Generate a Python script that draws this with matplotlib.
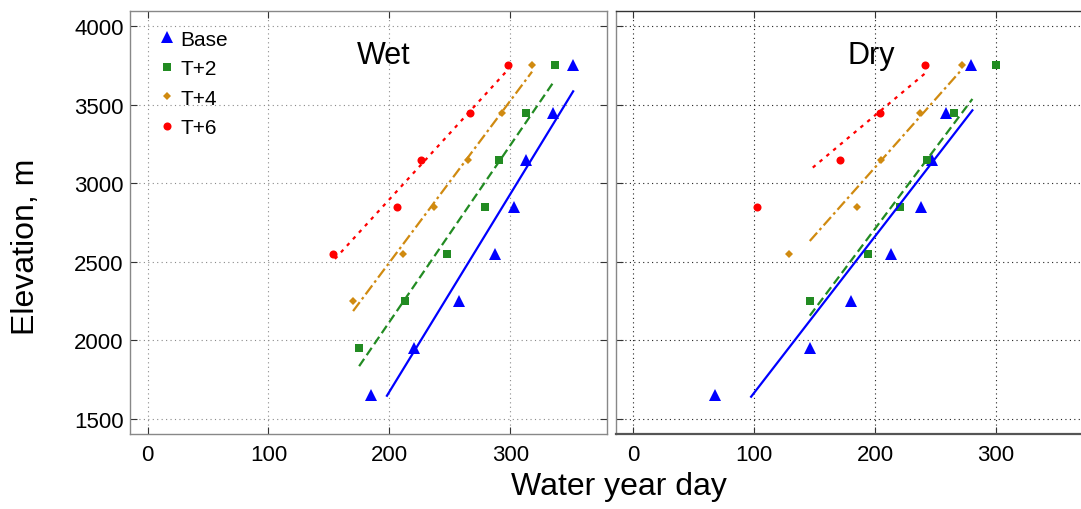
import numpy as np
import matplotlib
matplotlib.use("Agg")
import matplotlib.pyplot as plt

plt.rcParams["font.family"] = ["Liberation Sans", "DejaVu Sans"]

# Elevation bands (m); each scenario covers the highest bands of this list
elevations = [1650, 1950, 2250, 2550, 2850, 3150, 3450, 3750]
series_names = ["Base", "T+2", "T+4", "T+6"]

# Water-year day of snow disappearance per elevation band, wet year
wet_base_days = [185, 220, 258, 287, 303, 313, 335, 352]
wet_t2_days = [175, 213, 248, 279, 291, 313, 337]
wet_t4_days = [170, 211, 237, 265, 293, 318]
wet_t6_days = [153, 206, 226, 267, 298]

# Same for the dry year
dry_base_days = [68, 146, 180, 213, 238, 247, 259, 279]
dry_t2_days = [146, 194, 221, 243, 265, 300]
dry_t4_days = [129, 185, 205, 237, 272]
dry_t6_days = [102, 171, 204, 241]

# Day range over which each fitted linear trend is shown
wet_trend_spans = [(198, 352), (175, 335), (170, 318), (155, 298)]
dry_trend_spans = [(97.5, 280.5), (146, 280.5), (146, 272), (148.5, 242)]

x_ticks = [0, 100, 200, 300]
y_ticks = [1500, 2000, 2500, 3000, 3500, 4000]

colors = ["#0000ff", "#228b22", "#d08a10", "#ff0000"]
markers = ["^", "s", "D", "o"]
marker_sizes = [8.5, 6.3, 4.2, 5.8]
line_styles = ["-", (0, (4, 2)), (0, (5, 1.6, 1.2, 1.6)), (0, (1.6, 2.4))]

W, H = 1081, 510
fig = plt.figure(figsize=(W / 100, H / 100), dpi=100)
ax_w = fig.add_axes([130 / W, 75 / H, 477 / W, 423.3 / H])
ax_d = fig.add_axes([615.7 / W, 75 / H, 477 / W, 423.3 / H])


def draw_panel(ax, day_sets, spans, grid_color, spine_colors):
    for i, days in enumerate(day_sets):
        elev = elevations[-len(days):]
        ax.plot(days, elev, linestyle="none", marker=markers[i],
                color=colors[i], markersize=marker_sizes[i],
                markeredgewidth=0, label=series_names[i], zorder=3)
        coef = np.polyfit(days, elev, 1)
        xs = np.linspace(spans[i][0], spans[i][1], 60)
        ax.plot(xs, np.polyval(coef, xs), linestyle=line_styles[i],
                color=colors[i], linewidth=1.6, zorder=4)
    ax.set_xlim(-14.5, 380)
    ax.set_ylim(1405, 4098)
    ax.set_xticks(x_ticks)
    ax.set_yticks(y_ticks)
    ax.grid(True, color=grid_color, linestyle=(0, (1, 3)), linewidth=0.8)
    ax.set_axisbelow(True)
    ax.tick_params(direction="in", top=True, right=True, length=5,
                   width=0.8, labelsize=16, colors="#333333",
                   labelcolor="black")
    ax.tick_params(axis="x", pad=7.5)
    ax.tick_params(axis="y", pad=4.5)
    for side, c in spine_colors.items():
        ax.spines[side].set_color(c)
        ax.spines[side].set_linewidth(1.0)


draw_panel(ax_w, [wet_base_days, wet_t2_days, wet_t4_days, wet_t6_days],
           wet_trend_spans, "#8a8a8a",
           {"left": "#888888", "right": "#888888", "top": "#888888",
            "bottom": "#888888"})
draw_panel(ax_d, [dry_base_days, dry_t2_days, dry_t4_days, dry_t6_days],
           dry_trend_spans, "#222222",
           {"left": "#888888", "right": "#333333", "top": "#333333",
            "bottom": "#555555"})
ax_d.tick_params(labelleft=False)
ax_d.spines["bottom"].set_linewidth(1.6)

ax_w.text(0.5325, 0.8757, "Wet", transform=ax_w.transAxes, ha="center",
          va="baseline", fontsize=22)
ax_d.text(0.535, 0.8757, "Dry", transform=ax_d.transAxes, ha="center",
          va="baseline", fontsize=22)

ax_w.legend(loc="upper left", bbox_to_anchor=(0.056, 0.955), frameon=False,
            fontsize=15, handlelength=1.0, handletextpad=0.15,
            borderpad=0, borderaxespad=0, labelspacing=0.5, numpoints=1)

fig.text(619 / W, 15 / H, "Water year day", ha="center", va="baseline",
         fontsize=23)
fig.text(26 / W, 0.5157, "Elevation, m", ha="center", va="center",
         rotation=90, fontsize=23)

fig.savefig("out.png", dpi=100)
